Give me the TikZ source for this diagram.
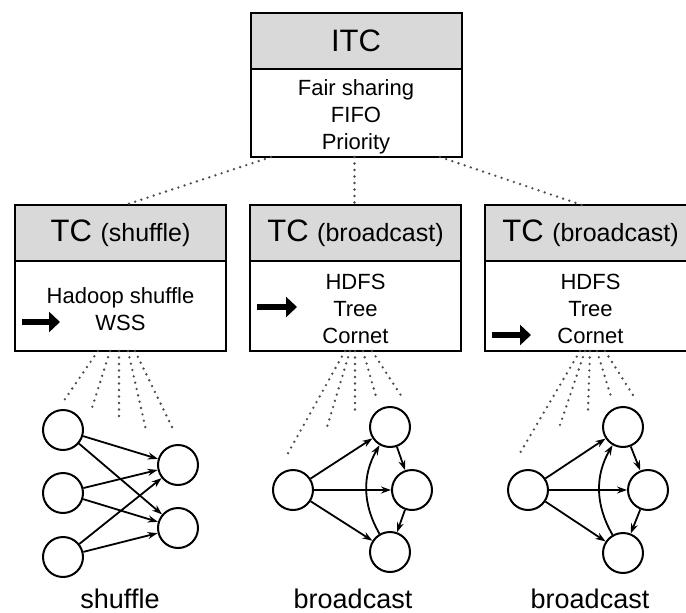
\documentclass[tikz,border=0pt]{standalone}
\usepackage{fontspec}
\setmainfont{Liberation Sans}
\usetikzlibrary{positioning, arrows.meta}

\newcommand{\tcfont}{\fontsize{31}{36}\selectfont}
\newcommand{\kindfont}{\fontsize{25}{30}\selectfont}

\begin{document}
\begin{tikzpicture}[
    x=1pt, y=-1pt,
    headbox/.style={rectangle, draw=black, line width=2pt, fill=gray!30, outer sep=0pt, inner sep=0pt, minimum width=211pt, minimum height=56pt},
    bodybox/.style={rectangle, draw=black, line width=2pt, fill=white, outer sep=0pt, inner sep=0pt, minimum width=211pt, minimum height=90pt},
    bodytext/.style={align=center, inner sep=0pt, font=\fontsize{22}{27}\selectfont},
    roundnode/.style={circle, draw=black, line width=2pt, minimum size=40pt, inner sep=0pt},
    directed/.style={-{Stealth[length=10pt, width=7pt]}, line width=1.8pt},
    dots/.style={line width=2.6pt, dash pattern=on 0pt off 6.5pt, line cap=round, black!70},
    bigarrow/.style={line width=6.5pt, -{Triangle[length=11pt, width=20pt]}},
    caption/.style={font=\fontsize{27}{32}\selectfont, anchor=base, inner sep=0pt}
]
\useasboundingbox (0,0) rectangle (686,613);
\clip (0,0) rectangle (686,613);

% Top level
\node[headbox] (itc) at (356,41) {\tcfont ITC};
\node[bodybox, below=0pt of itc, minimum height=88pt] (itcbody) {};
\node[bodytext] (itctext) at ([yshift=-4pt]itcbody.center) {Fair sharing\\FIFO\\Priority};

% Second level
\node[headbox] (shuf) at (120.5,233) {\tcfont TC \kindfont(shuffle)};
\node[bodybox, below=0pt of shuf] (shufbody) {};
\node[bodytext] (shuftext) at ([yshift=-3pt]shufbody.center) {Hadoop shuffle\\WSS};
\node[headbox] (bcA) at (355.5,233) {\tcfont TC \kindfont(broadcast)};
\node[bodybox, below=0pt of bcA] (bcAbody) {};
\node[bodytext] (bcAtext) at ([yshift=-3pt]bcAbody.center) {HDFS\\Tree\\Cornet};
\node[headbox] (bcB) at (590.5,233) {\tcfont TC \kindfont(broadcast)};
\node[bodybox, below=0pt of bcB] (bcBbody) {};
\node[bodytext] (bcBtext) at ([yshift=-3pt]bcBbody.center) {HDFS\\Tree\\Cornet};

% Selected mechanism
\draw[bigarrow] ([xshift=7pt, yshift=-16pt]shufbody.west) -- ([xshift=45pt, yshift=-16pt]shufbody.west);
\draw[bigarrow] ([xshift=7pt, yshift=-1pt]bcAbody.west) -- ([xshift=47pt, yshift=-1pt]bcAbody.west);
\draw[bigarrow] ([xshift=7pt, yshift=-29pt]bcBbody.west) -- ([xshift=46pt, yshift=-29pt]bcBbody.west);

% Links between levels
\draw[dots] ([xshift=-85pt]itcbody.south) -- ([xshift=4.5pt]shuf.north);
\draw[dots] ([xshift=-1.5pt]itcbody.south) -- ([xshift=-1pt]bcA.north);
\draw[dots] ([xshift=84pt]itcbody.south) -- ([xshift=-8.5pt]bcB.north);

% Shuffle graph
\node[roundnode] (s1) at (63,430) {};
\node[roundnode] (s2) at (63,493) {};
\node[roundnode] (s3) at (63,557) {};
\node[roundnode] (r1) at (178,465) {};
\node[roundnode] (r2) at (178,528) {};
\foreach \a in {s1,s2,s3}
    \foreach \b in {r1,r2}
        \draw[directed] (\a) -- (\b);

% Broadcast graphs
\node[roundnode] (srcA) at (293,490) {};
\node[roundnode] (topA) at (390,427) {};
\node[roundnode] (midA) at (412,490) {};
\node[roundnode] (botA) at (390,552) {};
\node[roundnode] (srcB) at (528,490) {};
\node[roundnode] (topB) at (623,427) {};
\node[roundnode] (midB) at (648,490) {};
\node[roundnode] (botB) at (623,553) {};
\foreach \g in {A,B} {
    \draw[directed] (src\g) -- (top\g);
    \draw[directed] (src\g) -- (mid\g);
    \draw[directed] (src\g) -- (bot\g);
    \draw[directed] (top\g) -- (mid\g);
    \draw[directed] (mid\g) -- (bot\g);
    \draw[directed, bend left=30] (bot\g) to (top\g);
}

% Fan-out to the flows
\foreach \dx/\ex/\ey in {-22.5/63/402, -10.5/92/408, -1.5/119/420, 7.5/146/430, 14.5/172/427}
    \draw[dots] ([xshift=\dx pt]shufbody.south) -- (\ex,\ey);
\foreach \dx/\ex/\ey in {-10.5/287/455, -5.5/327/427, -0.5/355/410, 7.5/377/400, 16.5/402/397}
    \draw[dots] ([xshift=\dx pt]bcAbody.south) -- (\ex,\ey);
\foreach \dx/\ex/\ey in {-10.5/520/453, -5.5/560/425, -0.5/588/410, 6.5/612/400, 14.5/633/395}
    \draw[dots] ([xshift=\dx pt]bcBbody.south) -- (\ex,\ey);

% Captions
\node[caption] (shufcap) at (120,608) {shuffle};
\node[caption] (bcAcap) at (353,608) {broadcast};
\node[caption] (bcBcap) at (590,608) {broadcast};

\end{tikzpicture}
\end{document}
